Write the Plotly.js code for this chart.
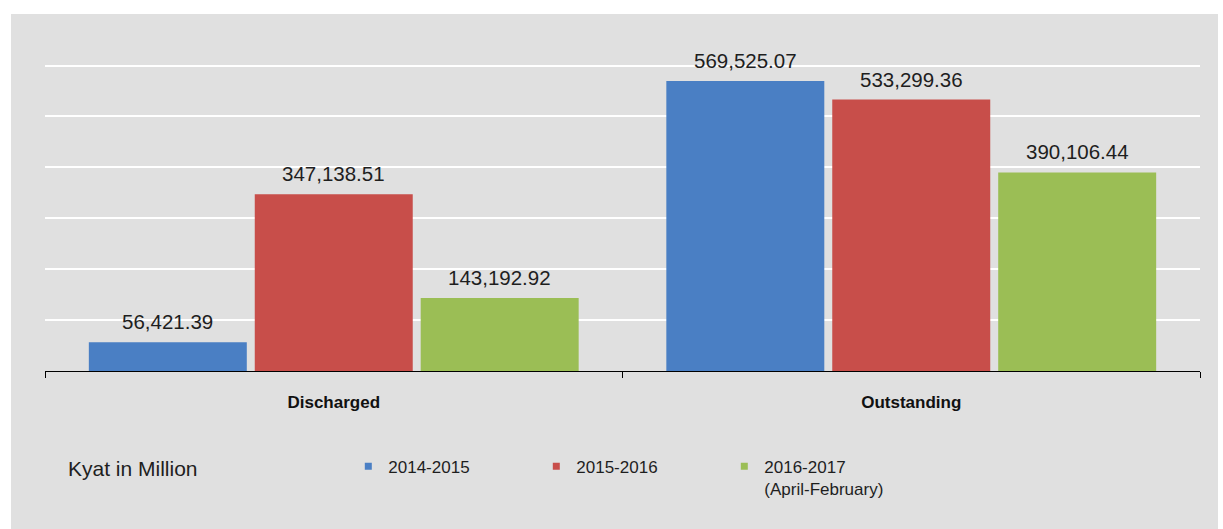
<!DOCTYPE html>
<html><head><meta charset="utf-8">
<script src="https://cdn.plot.ly/plotly-3.0.1.min.js"></script>
<style>
html,body{margin:0;padding:0;background:#fff;}
#bg{position:absolute;left:11px;top:14px;width:1207px;height:515px;background:#e0e0e0;}
#chart{position:absolute;left:0;top:0;width:1223px;height:529px;}
</style></head><body>
<div id="bg"></div><div id="chart"></div>
<script>
const categories = ["Discharged", "Outstanding"];
const seriesNames = ["2014-2015", "2015-2016", "2016-2017<br>(April-February)"];
const values2014_2015 = [56421.39, 569525.07];
const values2015_2016 = [347138.51, 533299.36];
const values2016_2017 = [143192.92, 390106.44];
const unitNote = "Kyat in Million";

const seriesValues = [values2014_2015, values2015_2016, values2016_2017];
const colors = ["#4A7FC4", "#C84E4A", "#9BBE55"];

const W = 1223, H = 529;
const margin = {l: 45, r: 23, t: 63, b: 158};
const bargap = 0.138, bargroupgap = 0.048;
const plotW = W - margin.l - margin.r;
const slot = (plotW / categories.length) * (1 - bargap) / seriesValues.length;
const FONT = "Liberation Sans, Arial, sans-serif";

const traces = [];
seriesValues.forEach((vals, i) => {
  traces.push({
    type: "bar",
    name: seriesNames[i],
    legendgroup: "s" + i,
    showlegend: false,
    x: categories,
    y: vals,
    marker: {color: colors[i]},
    hoverinfo: "skip"
  });
});
// legend entries (small square swatches like the original)
seriesValues.forEach((vals, i) => {
  traces.push({
    type: "scatter", mode: "markers",
    name: seriesNames[i],
    legendgroup: "s" + i,
    x: [null], y: [null],
    marker: {symbol: "square", size: 7, color: colors[i]},
    hoverinfo: "skip"
  });
});

const fmt = v => v.toLocaleString("en-US", {minimumFractionDigits: 2, maximumFractionDigits: 2});
const annotations = [];
seriesValues.forEach((vals, i) => {
  vals.forEach((v, j) => {
    annotations.push({
      x: categories[j], y: v, xref: "x", yref: "y",
      text: fmt(v), showarrow: false,
      xanchor: "center", yanchor: "bottom",
      xshift: (i - (seriesValues.length - 1) / 2) * slot,
      yshift: 7,
      font: {family: FONT, size: 20.5, color: "#1e1e1e"}
    });
  });
});
annotations.push({
  xref: "paper", yref: "paper", x: 0.018, y: -0.318,
  xanchor: "left", yanchor: "middle", showarrow: false,
  text: unitNote,
  font: {family: FONT, size: 21, color: "#1e1e1e"}
});

const layout = {
  width: W, height: H,
  margin: margin,
  paper_bgcolor: "rgba(0,0,0,0)",
  plot_bgcolor: "rgba(0,0,0,0)",
  barmode: "group",
  bargap: bargap,
  bargroupgap: bargroupgap,
  showlegend: true,
  legend: {
    orientation: "h", x: 0.2626, y: -0.252, xanchor: "left", yanchor: "top",
    font: {family: FONT, size: 17, color: "#1e1e1e"},
    entrywidth: 143, entrywidthmode: "pixels", valign: "top",
    bgcolor: "rgba(0,0,0,0)", traceorder: "normal"
  },
  xaxis: {
    type: "category",
    showline: true, linecolor: "#000", linewidth: 1,
    ticks: "outside", tickson: "boundaries", ticklen: 6, tickcolor: "#000", tickwidth: 1,
    ticklabelstandoff: 16,
    tickfont: {family: FONT, size: 17, color: "#111", weight: "bold"},
    showgrid: false, zeroline: false, fixedrange: true
  },
  yaxis: {
    range: [0, 605000], dtick: 100000, tick0: 0,
    showticklabels: false, showline: false, zeroline: false,
    showgrid: true, gridcolor: "#ffffff", gridwidth: 2, ticks: "", fixedrange: true
  },
  annotations: annotations
};

Plotly.newPlot("chart", traces, layout, {staticPlot: true, displayModeBar: false});
</script>
</body></html>
